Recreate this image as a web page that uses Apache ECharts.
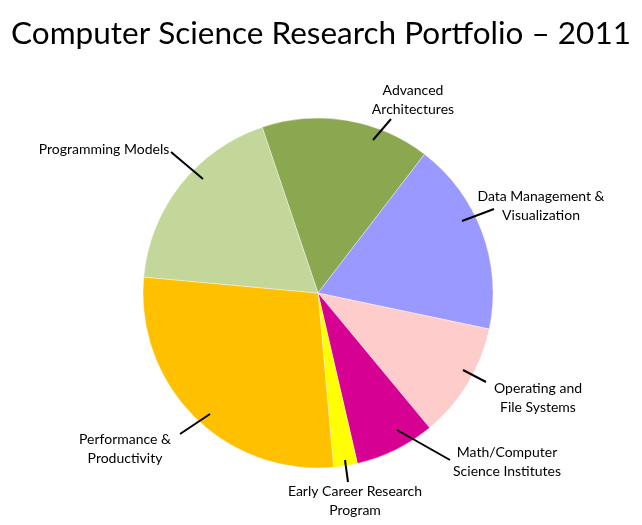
<!DOCTYPE html>
<html>
<head>
<meta charset="utf-8">
<script src="https://cdn.jsdelivr.net/npm/echarts@6/dist/echarts.min.js"></script>
<style>
html,body{margin:0;padding:0;background:#fff;}
#c{width:642px;height:525px;}
</style>
</head>
<body>
<div id="c"></div>
<script>
var categories = [
  "Advanced\nArchitectures",
  "Data Management &\nVisualization",
  "Operating and\nFile Systems",
  "Math/Computer\nScience Institutes",
  "Early Career Research\nProgram",
  "Performance &\nProductivity",
  "Programming Models"
];
var values = [15.6, 17.9, 10.7, 7.4, 2.2, 27.9, 18.4];
var colors = ["#8BA74F", "#9999FF", "#FFCCCC", "#D60093", "#FFFF00", "#FFC000", "#C4D79B"];
// label layout (annotation positions only)
var labelPos = [[413,100],[541,206],[538,398],[507,462],[355,501],[125,449],[104,149]];
var leaderLines = [
  [[373,140],[391,119]],
  [[462,221],[494,209]],
  [[463,370],[486,382]],
  [[397,430],[450,460]],
  [[345,460],[348,482]],
  [[210,414],[180,434]],
  [[203,179],[171,152]]
];

var chart = echarts.init(document.getElementById('c'), null, {renderer:'canvas'});
var data = categories.map(function(c,i){ return {name:c, value:values[i], itemStyle:{color:colors[i]}}; });
var dataOverlay = categories.map(function(c,i){ return {name:c, value:values[i]}; });
var FONT = 'Lato, "Open Sans", sans-serif';
chart.setOption({
  animation:false,
  title:{
    text:'Computer Science Research Portfolio \u2013 2011',
    left:'center', top:13,
    textStyle:{fontFamily:FONT, fontSize:31.5, fontWeight:'normal', color:'#000'}
  },
  series:[
    {
      type:'pie', z:2, center:[318,293], radius:[0,175], startAngle:108.6, clockwise:true,
      data:data, silent:true,
      itemStyle:{borderWidth:0.6, borderColor:'rgba(255,255,255,0.6)'},
      label:{show:false}, labelLine:{show:false}
    },
    {
      type:'pie', z:5, center:[318,293], radius:[0,162], startAngle:108.6, clockwise:true,
      data:dataOverlay, silent:true,
      itemStyle:{color:'rgba(0,0,0,0)', borderWidth:0},
      label:{show:true, position:'outside', fontFamily:FONT, fontSize:14, color:'#000', lineHeight:19, align:'center'},
      labelLine:{show:true, length:20, length2:0, lineStyle:{color:'#000', width:2}},
      labelLayout:function(p){
        var pos = labelPos[p.dataIndex];
        return {x:pos[0], y:pos[1], align:'center', verticalAlign:'middle', labelLinePoints:leaderLines[p.dataIndex]};
      }
    }
  ]
});
</script>
</body>
</html>
